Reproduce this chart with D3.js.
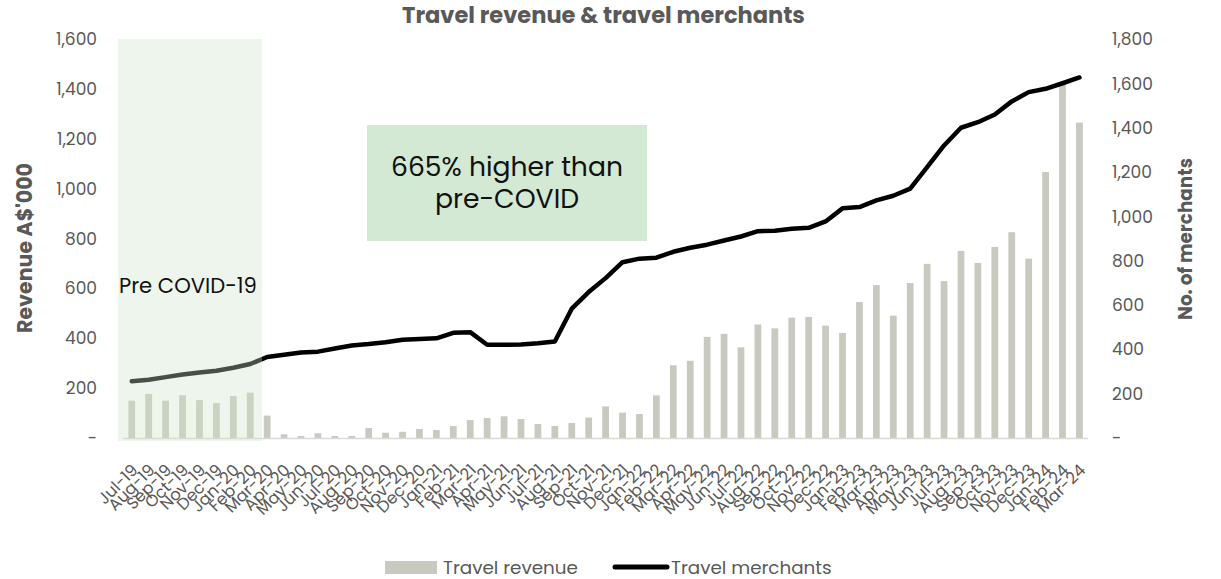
<!DOCTYPE html>
<html><head><meta charset="utf-8">
<script src="https://cdn.jsdelivr.net/npm/d3@7"></script>
<style>body{margin:0;background:#fff;} svg{display:block;font-family:'Poppins','Noto Sans',sans-serif;}</style>
</head><body><svg id="c" width="1221" height="579"></svg>
<script>
const months = ["Jul-19","Aug-19","Sep-19","Oct-19","Nov-19","Dec-19","Jan-20","Feb-20","Mar-20","Apr-20","May-20","Jun-20",
"Jul-20","Aug-20","Sep-20","Oct-20","Nov-20","Dec-20","Jan-21","Feb-21","Mar-21","Apr-21","May-21","Jun-21",
"Jul-21","Aug-21","Sep-21","Oct-21","Nov-21","Dec-21","Jan-22","Feb-22","Mar-22","Apr-22","May-22","Jun-22",
"Jul-22","Aug-22","Sep-22","Oct-22","Nov-22","Dec-22","Jan-23","Feb-23","Mar-23","Apr-23","May-23","Jun-23",
"Jul-23","Aug-23","Sep-23","Oct-23","Nov-23","Dec-23","Jan-24","Feb-24","Mar-24"];
const revenue = [150,177,150,171,152,140,168,182,
 90,15,8,19,8,8,40,21,25,36,
 32,48,72,80,87,76,56,48,60,82,127,102,
 96,171,292,310,406,418,364,456,440,483,486,451,
 422,546,614,491,622,699,630,751,703,767,826,720,
 1068,1418,1266];
const merchants = [256,263,275,287,296,304,317,334,
 366,376,386,390,404,418,424,432,444,447,
 450,475,478,421,421,422,428,436,584,659,722,794,
 810,814,841,859,873,892,910,934,936,945,949,978,
 1037,1043,1073,1094,1126,1223,1321,1401,1426,1461,1520,1562,
 1577,1602,1628];
const leftTicks = [0,200,400,600,800,1000,1200,1400,1600];
const rightTicks = [0,200,400,600,800,1000,1200,1400,1600,1800];
const titleText = "Travel revenue & travel merchants";
const leftTitle = "Revenue A$'000";
const rightTitle = "No. of merchants";
const seriesNames = ["Travel revenue","Travel merchants"];

const svg = d3.select("#c");
const grey = "#595959";
const fmt = v => v === 0 ? "-" : d3.format(",")(v);

function fit(sel, target){
  const n = sel.node(); const fs = parseFloat(sel.attr("font-size"));
  const w = n.getComputedTextLength();
  if (w > 0) sel.attr("font-size", (fs*target/w).toFixed(2));
  return sel;
}

const x = d3.scaleBand().domain(months).range([123.3, 1087.9]).paddingInner(0.6).paddingOuter(0.3);
const yL = d3.scaleLinear().domain([0,1600]).range([438, 39.4]);
const yR = d3.scaleLinear().domain([0,1800]).range([438, 39.4]);

// bars
svg.append("g").selectAll("rect").data(months).join("rect")
  .attr("x", d => x(d)).attr("width", x.bandwidth())
  .attr("y", (d,i) => yL(revenue[i])).attr("height", (d,i) => yL(0) - yL(revenue[i]))
  .attr("fill", "#c8c9bf");

// baseline
svg.append("line").attr("x1", 123.3).attr("x2", 1087.9).attr("y1", yL(0)+0.5).attr("y2", yL(0)+0.5)
  .attr("stroke", "#d9d9d9").attr("stroke-width", 1.5);

// line
const line = d3.line().x((d,i) => x(months[i]) + x.bandwidth()/2).y(d => yR(d));
svg.append("path").datum(merchants).attr("d", line).attr("fill","none")
  .attr("stroke","#000").attr("stroke-width",4.5).attr("stroke-linejoin","round").attr("stroke-linecap","round");

// pre-covid shade (semi-transparent overlay)
svg.append("rect").attr("x",118).attr("y",39).attr("width",144).attr("height",402)
  .attr("fill","#cfe3c9").attr("opacity",0.35);
const pre = svg.append("text").attr("x",119).attr("y",293).attr("font-size",20).attr("fill","#111").text("Pre COVID-19");
fit(pre, 138);

// callout box
svg.append("rect").attr("x",367).attr("y",125).attr("width",280).attr("height",116).attr("fill","#d3e9d4");
const c1 = svg.append("text").attr("x",507).attr("y",176).attr("text-anchor","middle").attr("font-size",24).attr("fill","#111").text("665% higher than");
fit(c1, 232);
const c2 = svg.append("text").attr("x",507).attr("y",208).attr("text-anchor","middle").attr("font-size",24).attr("fill","#111").text("pre-COVID");
c2.attr("font-size", c1.attr("font-size"));

// left axis labels
const tickFs = 17;
svg.append("g").selectAll("text").data(leftTicks).join("text")
  .attr("x",97).attr("y", d => yL(d)).attr("dy","0.35em").attr("text-anchor","end")
  .attr("font-size",tickFs).attr("fill",grey).text(fmt);
// right axis labels
svg.append("g").selectAll("text").data(rightTicks).join("text")
  .attr("x",1112).attr("y", d => yR(d)).attr("dy","0.35em").attr("text-anchor","start")
  .attr("font-size",tickFs).attr("fill",grey).text(fmt);

// axis titles
const lt = svg.append("text").attr("transform","translate(32,248) rotate(-90)").attr("text-anchor","middle")
  .attr("font-size",15).attr("font-weight","bold").attr("fill",grey).text(leftTitle);
fit(lt,170);
const rt = svg.append("text").attr("transform","translate(1192,239) rotate(-90)").attr("text-anchor","middle")
  .attr("font-size",15).attr("font-weight","bold").attr("fill",grey).text(rightTitle);
fit(rt,162);

// title
const tt = svg.append("text").attr("x",603.5).attr("y",23).attr("text-anchor","middle")
  .attr("font-size",16).attr("font-weight","bold").attr("fill",grey).text(titleText);
fit(tt,403);

// x labels
svg.append("g").selectAll("text").data(months).join("text")
  .attr("transform", d => `translate(${x(d)+x.bandwidth()/2+3},467) rotate(-45)`)
  .attr("text-anchor","end").attr("dy","0.35em").attr("font-size",16.5).attr("fill",grey).text(d => d);

// legend
svg.append("rect").attr("x",385).attr("y",561).attr("width",52).attr("height",13).attr("fill","#c8c9bf");
const l1 = svg.append("text").attr("x",443).attr("y",574).attr("font-size",17).attr("fill",grey).text(seriesNames[0]);
fit(l1,135);
svg.append("line").attr("x1",615).attr("x2",667).attr("y1",567).attr("y2",567)
  .attr("stroke","#000").attr("stroke-width",5).attr("stroke-linecap","round");
svg.append("text").attr("x",671).attr("y",574).attr("font-size",l1.attr("font-size")).attr("fill",grey).text(seriesNames[1]);
</script></body></html>
